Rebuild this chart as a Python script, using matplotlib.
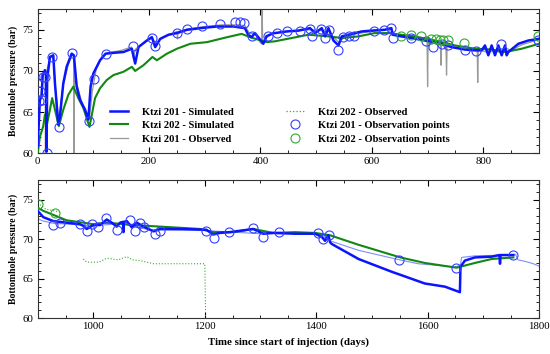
import numpy as np
import matplotlib
matplotlib.use("Agg")
import matplotlib.pyplot as plt
from matplotlib.ticker import MultipleLocator

plt.rcParams['font.family'] = 'serif'
plt.rcParams['font.serif'] = ['Liberation Serif', 'DejaVu Serif']

#%%
#### upper panel: 0 - 900 days
sim201_days_a = [0, 4, 7, 9, 13, 15, 16, 17, 22, 28, 31, 37, 40, 46, 52, 61, 65, 70, 76, 85, 91, 95, 100,
                 112, 122, 136, 154, 169, 175, 181, 196, 205, 211, 220, 235, 250, 268, 292, 322, 351, 372,
                 378, 384, 390, 396, 405, 411, 423, 426, 447, 468, 489, 498, 510, 516, 522, 531, 540, 546,
                 558, 570, 582, 600, 623, 635, 637, 653, 671, 695, 710, 725, 743, 767, 785, 797, 803, 809,
                 815, 821, 827, 833, 839, 842, 845, 863, 881, 900]
sim201_p_a = [60.8, 66.5, 66.9, 69.5, 70.1, 69.5, 60.2, 69.0, 71.7, 71.9, 68.5, 63.5, 64.5, 68.5, 70.5, 72.1,
              71.9, 68.1, 66.5, 65.3, 64.1, 68.1, 69.7, 71.3, 72.1, 72.2, 72.3, 72.7, 70.9, 72.9, 73.7, 74.1,
              72.9, 73.9, 74.4, 74.6, 75.0, 75.2, 75.4, 75.4, 75.2, 74.4, 74.1, 74.6, 74.1, 73.3, 74.2, 74.6,
              74.6, 74.8, 74.9, 75.2, 74.6, 75.2, 74.2, 75.2, 73.7, 73.1, 74.2, 74.4, 74.6, 74.8, 74.9, 75.0,
              75.2, 74.4, 74.2, 74.0, 73.7, 73.5, 73.3, 72.9, 72.6, 72.5, 72.5, 73.1, 71.9, 73.1, 71.9, 73.1,
              71.9, 73.1, 71.9, 72.3, 73.3, 73.7, 73.9]

sim202_days_a = [0, 4, 10, 13, 16, 22, 26, 31, 38, 46, 55, 64, 73, 82, 93, 103, 112, 124, 136, 154, 169,
                 175, 190, 206, 214, 232, 250, 274, 304, 340, 366, 386, 411, 426, 456, 486, 522, 546, 576,
                 605, 632, 641, 677, 713, 749, 785, 815, 839, 869, 900]
sim202_p_a = [60.0, 62.0, 63.3, 64.7, 63.3, 65.3, 66.7, 65.3, 63.3, 65.3, 67.1, 68.1, 66.7, 65.5, 63.2,
              66.7, 67.9, 68.9, 69.5, 69.9, 70.5, 70.0, 70.7, 71.7, 71.3, 72.1, 72.7, 73.3, 73.5, 74.1,
              74.5, 74.0, 73.5, 73.6, 74.0, 74.4, 74.2, 74.0, 74.2, 74.6, 74.6, 74.5, 74.2, 73.7, 73.1,
              72.7, 72.6, 72.3, 72.7, 73.3]

obs201_days_a = [0, 3, 6, 9, 12, 13.5, 14, 14.5, 18, 24, 28, 32, 38, 45, 55, 62, 64.5, 65, 65.5, 70, 80,
                 93, 98, 105, 115, 125, 150, 168, 172, 175, 180, 200, 206, 212, 225, 250, 251, 252, 270,
                 300, 330, 360, 372, 380, 390, 400, 402, 403, 404, 410, 425, 450, 470, 490, 510, 530, 540,
                 550, 570, 600, 635, 640, 660, 680, 699, 700, 701, 715, 723, 724, 725, 733, 734, 735, 760,
                 789, 790, 791, 800, 810, 820, 830, 840, 850, 870, 900]
obs201_p_a = [61.0, 66.0, 67.0, 69.3, 69.8, 69.5, 60.0, 69.4, 70.5, 71.8, 71.5, 68.0, 63.8, 68.0, 70.8,
              72.0, 71.8, 60.0, 71.6, 68.5, 66.0, 64.2, 67.5, 70.2, 71.7, 72.2, 72.5, 72.9, 71.5, 72.6,
              72.9, 73.8, 74.0, 73.3, 74.1, 74.8, 73.9, 74.8, 75.1, 75.4, 75.6, 75.6, 75.5, 74.6, 74.5,
              73.4, 73.3, 77.6, 73.4, 74.3, 74.6, 74.8, 74.9, 75.0, 74.9, 74.2, 73.5, 74.0, 74.5, 74.8,
              75.1, 74.5, 74.3, 74.0, 73.6, 68.1, 73.6, 73.3, 73.2, 70.7, 73.2, 73.0, 69.5, 73.0, 72.7,
              72.6, 68.6, 72.6, 72.4, 72.2, 72.6, 72.2, 72.8, 72.5, 73.2, 73.8]

pts201_days_a = [3, 5, 7, 10, 14, 16, 25, 38, 62, 93, 101, 122, 172, 206, 211, 251, 268, 295, 328, 355,
                 363, 371, 384, 413, 429, 447, 471, 489, 492, 509, 515, 523, 540, 549, 559, 567, 603, 621,
                 635, 637, 671, 697, 710, 725, 736, 767, 787, 831, 899]
pts201_p_a = [66.3, 67.6, 66.5, 69.3, 69.3, 60.0, 71.7, 63.2, 72.2, 63.9, 69.0, 72.1, 73.0, 74.0, 73.0,
              74.6, 75.1, 75.4, 75.7, 75.9, 75.9, 75.8, 74.2, 74.3, 74.6, 74.8, 74.9, 75.1, 74.2, 75.1,
              74.0, 75.0, 72.5, 74.1, 74.2, 74.2, 74.9, 75.0, 75.2, 74.0, 74.0, 73.6, 72.9, 73.3, 73.1,
              72.6, 72.4, 73.3, 73.8]

pts202_days_a = [652, 671, 689, 707, 715, 722, 728, 736, 766, 899]
pts202_p_a = [74.3, 74.4, 74.2, 73.9, 73.9, 73.8, 73.7, 73.8, 73.4, 74.2]

#%%
#### lower panel: 900 - 1800 days
sim201_days_b = [900, 910, 928, 952, 976, 982, 988, 1000, 1012, 1024, 1033, 1042, 1048, 1053, 1054, 1055,
                 1060, 1069, 1078, 1090, 1108, 1120, 1161, 1203, 1215, 1227, 1245, 1287, 1305, 1323, 1362,
                 1398, 1410, 1416, 1422, 1425, 1428, 1476, 1535, 1595, 1631, 1658, 1659, 1667, 1685, 1715,
                 1729, 1730, 1731, 1745, 1754]
sim201_p_b = [73.6, 72.8, 72.3, 72.1, 71.9, 71.7, 71.3, 71.8, 71.8, 72.5, 72.1, 71.6, 72.1, 72.2, 70.9,
              72.2, 72.3, 71.5, 72.1, 71.6, 71.0, 71.3, 71.3, 71.2, 70.6, 70.8, 70.9, 71.3, 70.7, 70.8,
              70.7, 70.7, 70.3, 69.8, 70.5, 69.6, 69.4, 67.5, 65.9, 64.4, 64.0, 63.3, 66.5, 67.3, 67.7,
              67.8, 68.0, 66.9, 68.0, 68.0, 68.0]

sim202_days_b = [900, 910, 952, 982, 1000, 1024, 1072, 1120, 1192, 1215, 1251, 1287, 1323, 1362, 1398,
                 1425, 1476, 1551, 1595, 1652, 1685, 1715, 1754]
sim202_p_b = [74.0, 73.6, 72.4, 72.1, 71.9, 72.1, 71.8, 71.6, 71.3, 70.9, 70.9, 71.3, 70.8, 70.9, 70.8,
              70.5, 69.3, 67.7, 67.0, 66.4, 67.0, 67.5, 67.7]

obs201_days_b = [900, 910, 930, 960, 1000, 1050, 1100, 1200, 1300, 1400, 1425, 1476, 1549, 1583, 1649,
                 1659, 1661, 1685, 1745, 1758, 1762, 1775, 1790, 1800]
obs201_p_b = [72.6, 72.3, 72.0, 71.9, 71.7, 72.0, 71.2, 71.1, 70.7, 70.8, 69.8, 68.6, 67.4, 66.9, 66.5,
              66.7, 67.7, 67.9, 68.0, 68.1, 67.4, 67.2, 66.9, 66.6]

obs202_days_b = [900, 915, 943, np.nan, 982, 988, 1010, 1024, 1045, 1060, 1070, 1083, 1108, 1150, 1200,
                 1201, 1201.5]
obs202_p_b = [74.6, 73.8, 73.4, np.nan, 67.5, 67.1, 67.1, 67.6, 67.4, 67.8, 67.4, 67.3, 66.9, 66.9, 66.9,
              63.0, 60.0]

pts201_days_b = [928, 940, 976, 988, 997, 1009, 1023, 1043, 1065, 1075, 1083, 1090, 1110, 1120, 1202,
                 1216, 1244, 1287, 1305, 1333, 1403, 1412, 1423, 1549, 1651, 1753]
pts201_p_b = [71.8, 72.1, 71.9, 71.0, 71.9, 71.6, 72.7, 71.2, 72.4, 71.0, 72.0, 71.5, 70.7, 71.1, 71.1,
              70.1, 70.9, 71.4, 70.3, 70.9, 70.8, 70.0, 70.5, 67.4, 66.3, 68.0]

pts202_days_b = [900, 931]
pts202_p_b = [74.4, 73.3]

#%%
blue = '#0a14ff'
green = '#118811'

fig = plt.figure(figsize=(5.5, 3.54), dpi=100)
ax1 = fig.add_axes([0.0685, 0.567, 0.9115, 0.407])
ax2 = fig.add_axes([0.0685, 0.101, 0.9115, 0.3905])

def style_axis(ax, xlim, xstep):
    ax.set_xlim(xlim)
    ax.set_ylim(60, 77.5)
    ax.xaxis.set_major_locator(MultipleLocator(xstep))
    ax.xaxis.set_minor_locator(MultipleLocator(50))
    ax.yaxis.set_major_locator(MultipleLocator(5))
    ax.yaxis.set_minor_locator(MultipleLocator(1))
    ax.tick_params(which='both', direction='in', top=True, right=True, labelsize=7.8, pad=3)
    ax.tick_params(which='major', length=4)
    ax.tick_params(which='minor', length=2)
    for s in ax.spines.values():
        s.set_linewidth(0.8)
        s.set_color('#333333')
    ax.set_ylabel('Bottomhole pressure (bar)', fontsize=7, fontweight='bold', labelpad=3)

# upper
ax1.plot(obs201_days_a, obs201_p_a, color='#999999', lw=0.9, zorder=2, label='Ktzi 201 - Observed')
ax1.plot(sim202_days_a, sim202_p_a, color=green, lw=1.5, zorder=3, label='Ktzi 202 - Simulated')
ax1.plot(sim201_days_a, sim201_p_a, color=blue, lw=1.8, zorder=4, label='Ktzi 201 - Simulated')
ax1.plot([], [], color='#33aa33', lw=0.9, ls=':', label='Ktzi 202 - Observed')
ax1.plot(pts201_days_a, pts201_p_a, 'o', ms=6.5, mfc='none', mec='#3340ff', mew=0.8, zorder=5,
         label='Ktzi 201 - Observation points')
ax1.plot(pts202_days_a, pts202_p_a, 'o', ms=6.5, mfc='none', mec='#33aa33', mew=0.8, zorder=5,
         label='Ktzi 202 - Observation points')
style_axis(ax1, (0, 900), 200)

h, l = ax1.get_legend_handles_labels()
order = [2, 1, 0, 3, 4, 5]
ax1.legend([h[i] for i in order], [l[i] for i in order], ncol=2, frameon=False, loc='lower left',
           bbox_to_anchor=(0.125, 0.0), prop={'size': 7.6, 'weight': 'bold'}, handlelength=1.75,
           handletextpad=1.25, columnspacing=5.0, labelspacing=0.4, numpoints=1)

# lower
ax2.plot(obs202_days_b, obs202_p_b, color='#33aa33', lw=0.8, ls=':', zorder=2)
ax2.plot(obs201_days_b, obs201_p_b, color='#7f8cff', lw=0.8, zorder=2)
ax2.plot(sim202_days_b, sim202_p_b, color=green, lw=1.5, zorder=3)
ax2.plot(sim201_days_b, sim201_p_b, color=blue, lw=1.8, zorder=4)
ax2.plot(pts201_days_b, pts201_p_b, 'o', ms=6.5, mfc='none', mec='#3340ff', mew=0.8, zorder=5)
ax2.plot(pts202_days_b, pts202_p_b, 'o', ms=6.5, mfc='none', mec='#33aa33', mew=0.8, zorder=5)
style_axis(ax2, (900, 1800), 200)
ax2.set_xticks([1000, 1200, 1400, 1600, 1800])
ax2.set_xlabel('Time since start of injection (days)', fontsize=7.8, fontweight='bold')

fig.savefig('out.png', dpi=100)
